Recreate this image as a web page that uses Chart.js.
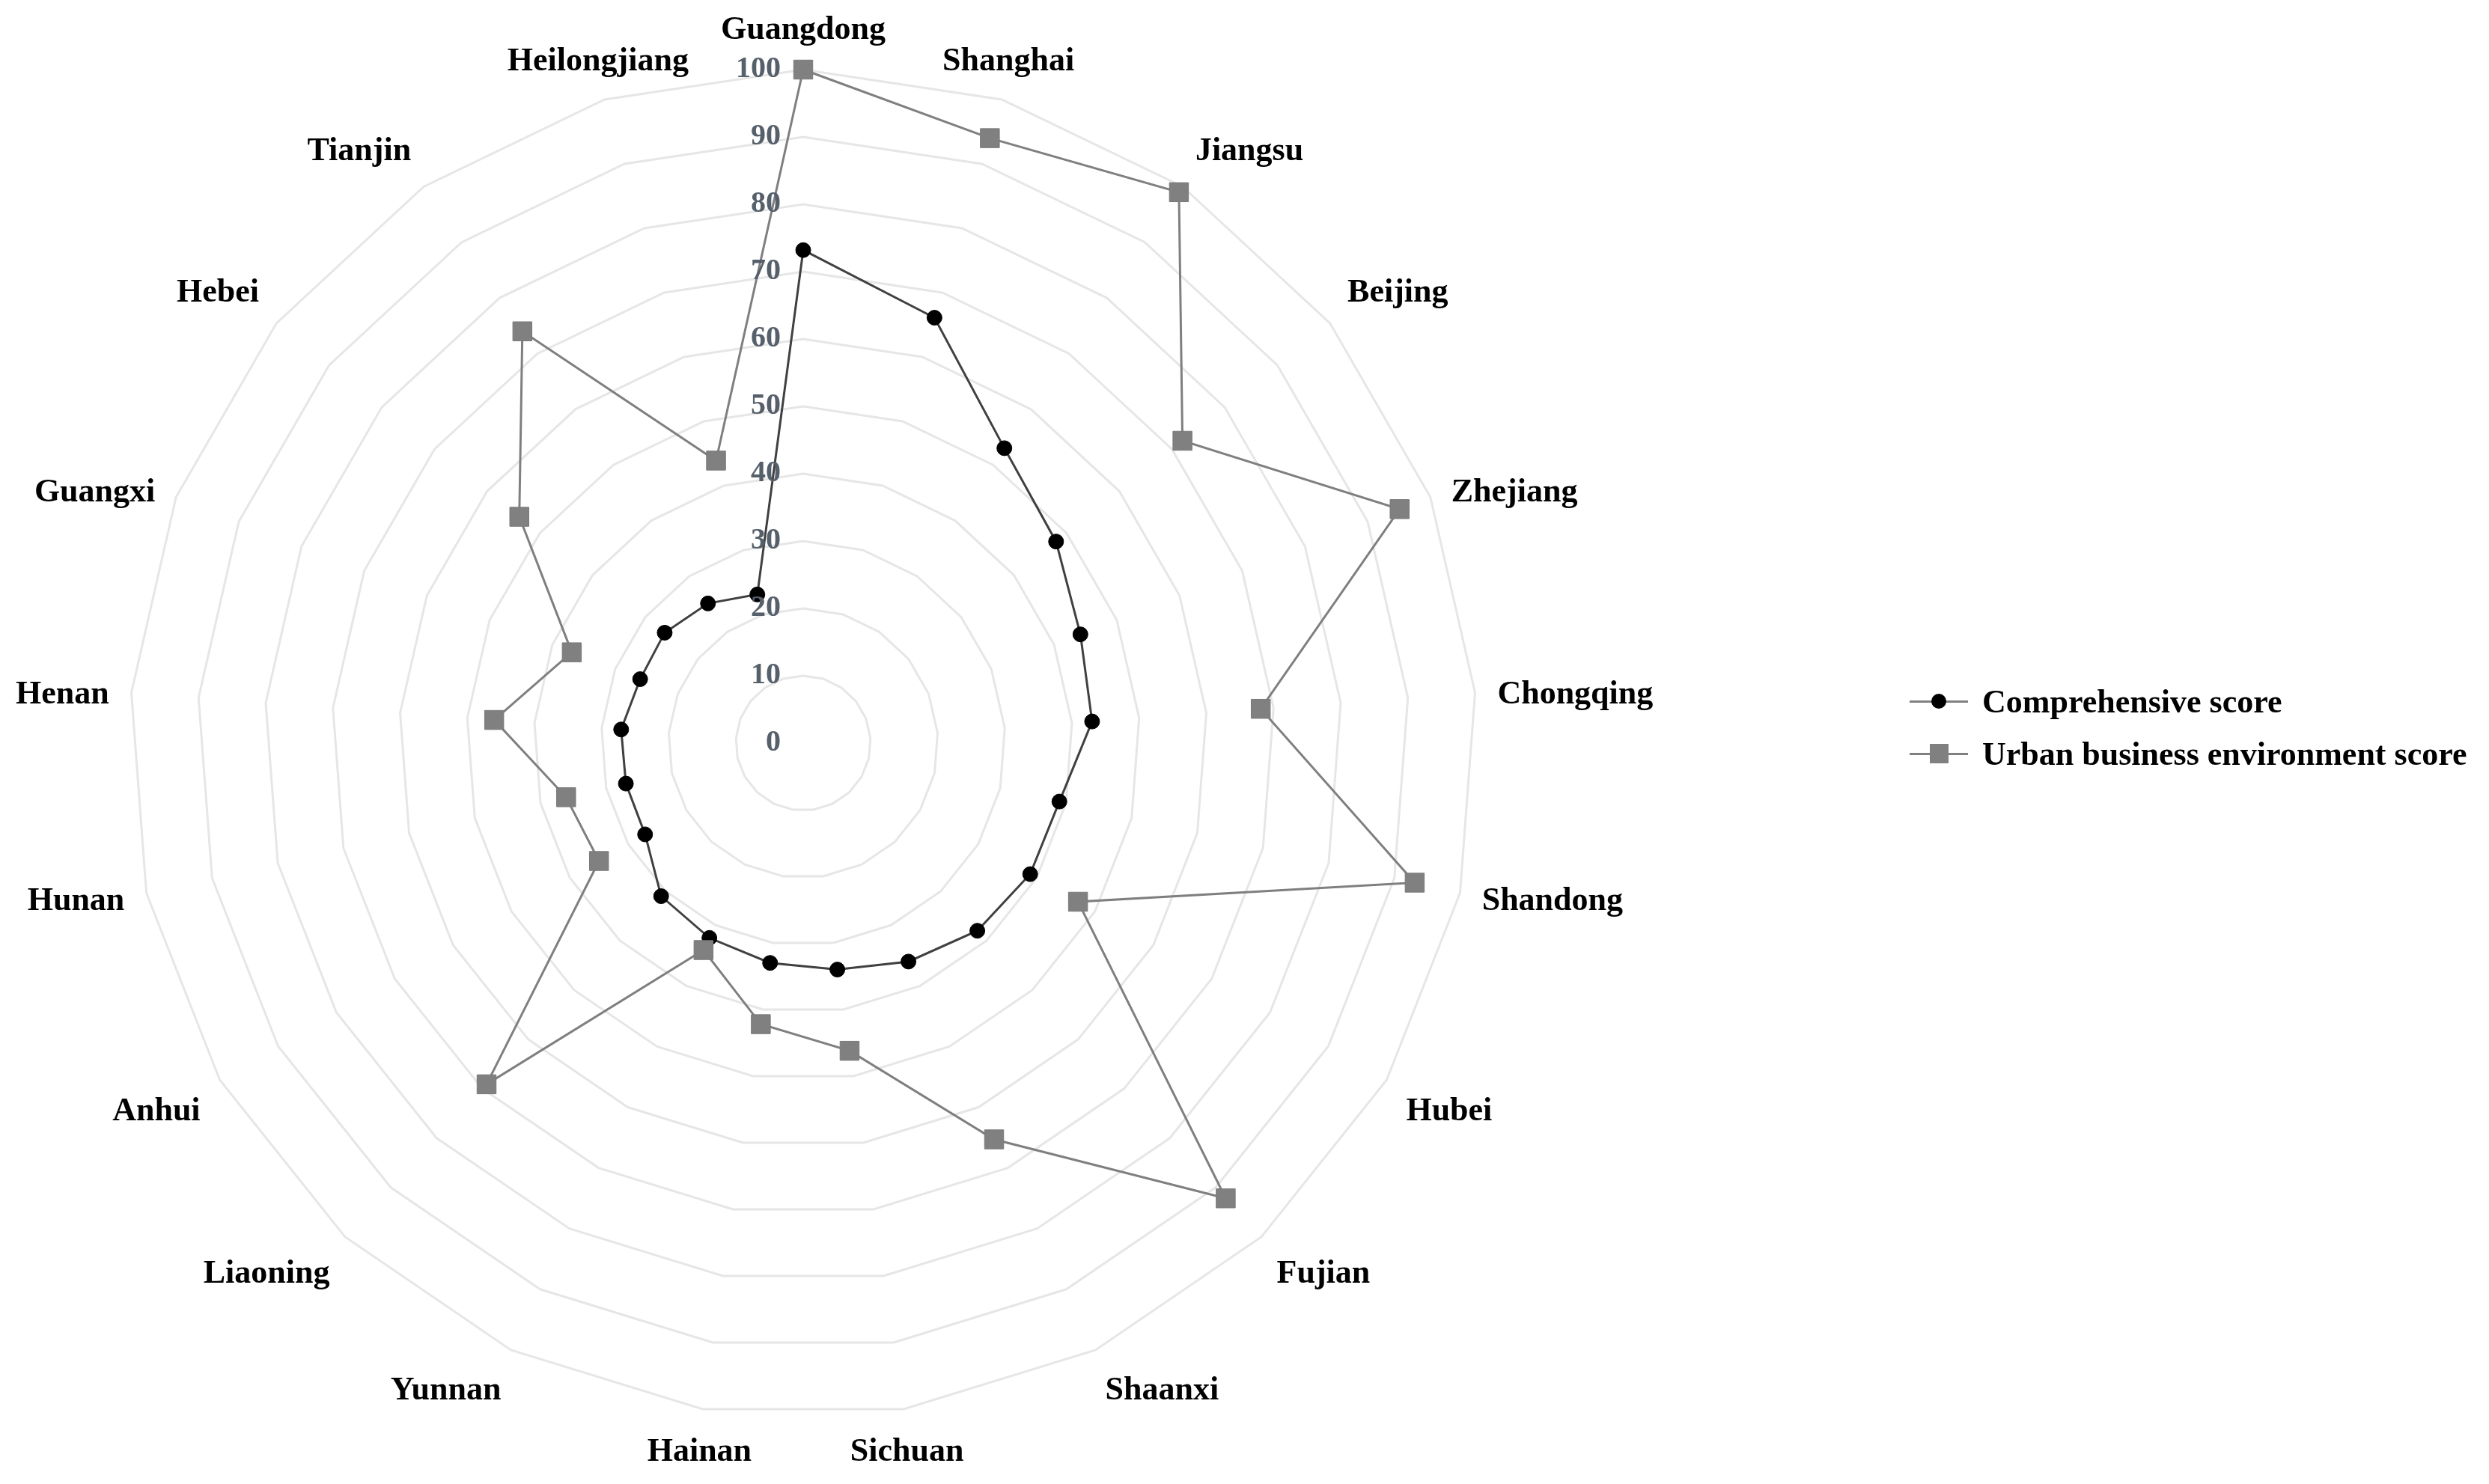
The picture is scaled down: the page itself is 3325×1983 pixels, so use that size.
<!DOCTYPE html>
<html>
<head>
<meta charset="utf-8">
<title>Radar chart</title>
<script src="https://cdn.jsdelivr.net/npm/chart.js@4.4.1/dist/chart.umd.min.js"></script>
<style>
  html, body { margin: 0; padding: 0; background: #fff; }
  #wrap { position: relative; width: 3325px; height: 1983px; }
  #chart { display: block; }
  .legend-row { position: absolute; left: 2551px; height: 50px; display: flex; align-items: center;
    font: bold 44px "Liberation Serif", "Times New Roman", serif; color: #000; white-space: nowrap; }
  .legend-mark { position: relative; width: 78px; height: 50px; margin-right: 19px; }
  .legend-mark .ln { position: absolute; left: 0; right: 0; top: 24px; height: 3px; background: #808080; }
  .legend-mark .dot { position: absolute; left: 29px; top: 15px; width: 20px; height: 20px; border-radius: 50%; background: #000; }
  .legend-mark .sq { position: absolute; left: 27px; top: 12px; width: 25px; height: 26px; background: #808080; }
</style>
</head>
<body>
<div id="wrap">
  <canvas id="chart" width="3325" height="1983"></canvas>
</div>
<script>
"use strict";

var categories = ["Guangdong", "Shanghai", "Jiangsu", "Beijing", "Zhejiang", "Chongqing", "Shandong",
  "Hubei", "Fujian", "Shaanxi", "Sichuan", "Hainan", "Yunnan", "Liaoning", "Anhui", "Hunan",
  "Henan", "Guangxi", "Hebei", "Tianjin", "Heilongjiang"];

var comprehensiveScore = [73.2, 66.1, 53.0, 48.0, 44.2, 43.0, 39.0, 38.9, 38.0, 36.0, 34.0,
  33.0, 32.1, 31.0, 27.1, 27.0, 27.1, 26.0, 26.3, 25.1, 23.1];

var businessScore = [100, 94.0, 99.0, 72.0, 95.1, 68.1, 93.1, 47.1, 92.2, 65.3, 46.2,
  42.2, 34.1, 69.1, 35.0, 36.1, 46.0, 36.9, 53.9, 74.0, 43.9];

var seriesNames = ["Comprehensive score", "Urban business environment score"];

var SERIF = "'Liberation Serif', 'Times New Roman', serif";

// tick numbers and province names drawn by hand so they sit like the Excel original
var radarText = {
  id: "radarText",
  afterDraw: function(chart) {
    var scale = chart.scales.r;
    var ctx = chart.ctx;
    ctx.save();

    ctx.font = "bold 40px " + SERIF;
    ctx.fillStyle = "#56606b";
    ctx.textAlign = "right";
    ctx.textBaseline = "middle";
    scale.ticks.forEach(function(t) {
      var d = scale.getDistanceFromCenterForValue(t.value);
      ctx.fillText(String(t.value), scale.xCenter - 30, scale.yCenter - d);
    });

    ctx.font = "bold 44px " + SERIF;
    ctx.fillStyle = "#000";
    ctx.textAlign = "center";
    categories.forEach(function(name, i) {
      var a = scale.getIndexAngle(i);
      var s = Math.sin(a), c = Math.cos(a);
      var p = scale.getPointPosition(i, scale.drawingArea + 30);
      var w = ctx.measureText(name).width;
      var h = 44;
      var x = p.x, y = p.y;
      if (Math.abs(s) >= 0.36) x += s > 0 ? w / 2 : -w / 2;
      if (c >= 0.43) {
        y -= h / 2;
      } else if (c <= -0.43) {
        y += h / 2 + 6;
      } else {
        y += 5;
      }
      ctx.fillText(name, x, y);
    });
    ctx.restore();
  }
};

var chart = new Chart(document.getElementById("chart"), {
  type: "radar",
  data: {
    labels: categories,
    datasets: [{
      label: seriesNames[0],
      data: comprehensiveScore,
      order: 1,
      fill: false,
      borderColor: "#404040",
      borderWidth: 3,
      pointStyle: "circle",
      pointRadius: 10,
      pointBackgroundColor: "#000",
      pointBorderColor: "#000",
      pointBorderWidth: 1
    }, {
      label: seriesNames[1],
      data: businessScore,
      order: 0,
      fill: false,
      borderColor: "#7f7f7f",
      borderWidth: 3,
      pointStyle: "rect",
      pointRadius: 18,
      pointBackgroundColor: "#808080",
      pointBorderColor: "#7a7a7a",
      pointBorderWidth: 1
    }]
  },
  options: {
    responsive: false,
    devicePixelRatio: 1,
    animation: false,
    layout: {
      padding: { left: 173, top: 93, right: 1352, bottom: 90 }
    },
    elements: { line: { tension: 0 } },
    plugins: {
      legend: { display: false },
      tooltip: { enabled: false }
    },
    scales: {
      r: {
        min: 0,
        max: 100,
        ticks: { stepSize: 10, display: false },
        grid: { circular: false, color: "#e6e6e6", lineWidth: 3 },
        angleLines: { display: false },
        pointLabels: { display: false }
      }
    }
  },
  plugins: [radarText]
});

// legend on the right, line with the series marker in the middle
var wrap = document.getElementById("wrap");
var legendTops = [912, 982];
seriesNames.forEach(function(name, i) {
  var row = document.createElement("div");
  row.className = "legend-row";
  row.style.top = legendTops[i] + "px";
  var mark = document.createElement("div");
  mark.className = "legend-mark";
  mark.innerHTML = '<div class="ln"></div><div class="' + (i === 0 ? "dot" : "sq") + '"></div>';
  row.appendChild(mark);
  var txt = document.createElement("span");
  txt.textContent = name;
  row.appendChild(txt);
  wrap.appendChild(row);
});
</script>
</body>
</html>
